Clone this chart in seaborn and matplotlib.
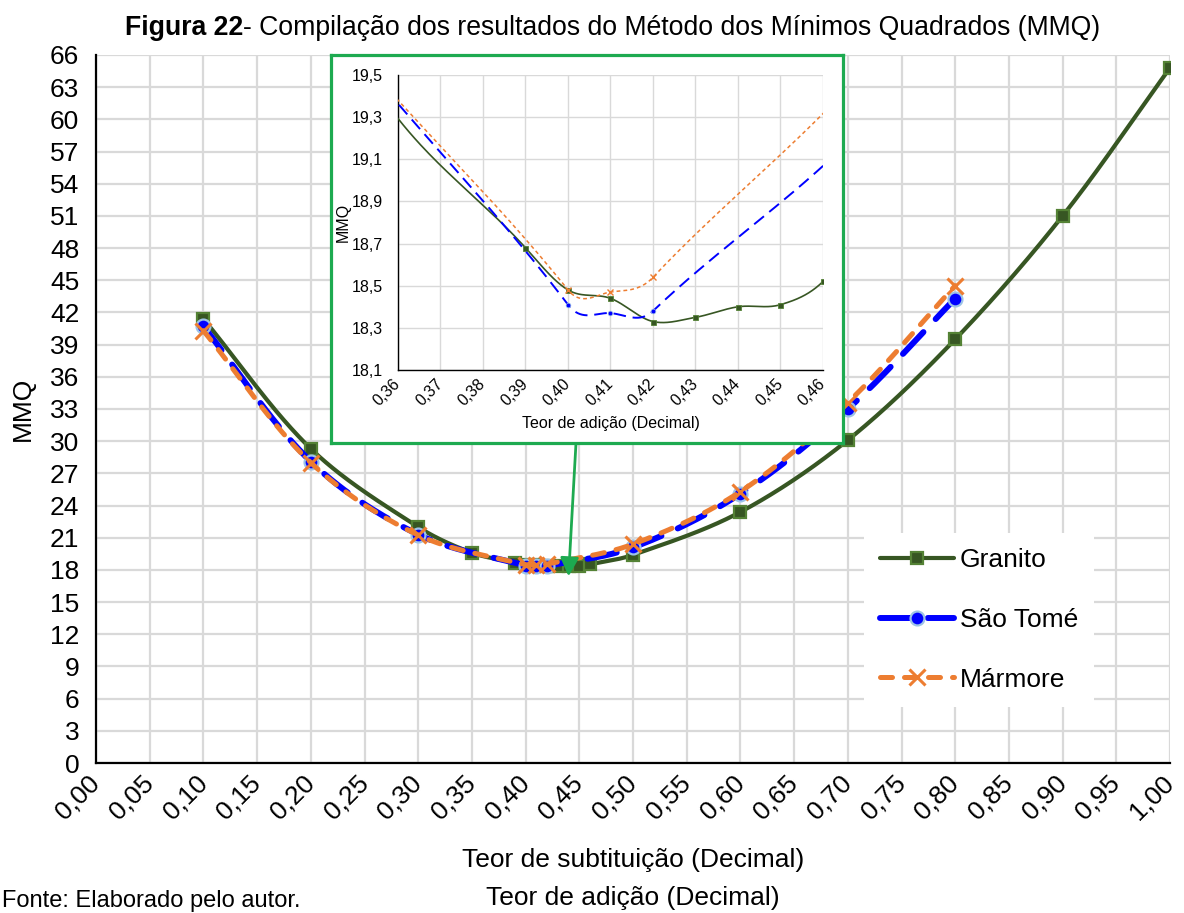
import numpy as np
import matplotlib
matplotlib.use("Agg")
import matplotlib.pyplot as plt
from matplotlib.lines import Line2D
import seaborn as sns

# ---- data -------------------------------------------------------------
teor_granito = [0.10, 0.20, 0.30, 0.35, 0.39, 0.40, 0.41, 0.42, 0.43, 0.44,
                0.45, 0.46, 0.50, 0.60, 0.70, 0.80, 0.90, 1.00]
mmq_granito = [41.4, 29.3, 22.0, 19.6, 18.68, 18.48, 18.44, 18.33, 18.35, 18.40,
               18.41, 18.52, 19.4, 23.4, 30.1, 39.5, 51.0, 64.8]

teor_sao_tome = [0.10, 0.20, 0.30, 0.40, 0.41, 0.42, 0.50, 0.60, 0.70, 0.80]
mmq_sao_tome = [40.7, 28.1, 21.3, 18.41, 18.37, 18.38, 20.1, 25.1, 33.0, 43.3]

teor_marmore = [0.10, 0.20, 0.30, 0.40, 0.41, 0.42, 0.50, 0.60, 0.70, 0.80]
mmq_marmore = [40.3, 28.0, 21.25, 18.48, 18.47, 18.54, 20.4, 25.3, 33.6, 44.5]

serie_nomes = ["Granito", "São Tomé", "Mármore"]

x_ticks = [round(0.05 * i, 2) for i in range(21)]
y_ticks = list(range(0, 67, 3))
x_ticks_zoom = [round(0.36 + 0.01 * i, 2) for i in range(11)]
y_ticks_zoom = [18.1, 18.3, 18.5, 18.7, 18.9, 19.1, 19.3, 19.5]

titulo_negrito = "Figura 22"
titulo_resto = "- Compilação dos resultados do Método dos Mínimos Quadrados (MMQ)"
rotulo_x1 = "Teor de subtituição (Decimal)"
rotulo_x2 = "Teor de adição (Decimal)"
rotulo_y = "MMQ"
fonte_txt = "Fonte: Elaborado pelo autor."

# ---- style ------------------------------------------------------------
sns.set_style("white")
plt.rcParams["font.family"] = ["Liberation Sans", "DejaVu Sans"]
plt.rcParams["text.color"] = "black"
plt.rcParams["axes.labelcolor"] = "black"
plt.rcParams["xtick.color"] = "black"
plt.rcParams["ytick.color"] = "black"

W, H = 1184, 913
fig = plt.figure(figsize=(W / 100, H / 100), dpi=100)

C_GRAN = "#375623"
C_GRAN_EDGE = "#548235"
C_SAO = "#0000FF"
C_SAO_EDGE = "#9DC3E6"
C_MAR = "#ED7D31"
C_DESTAQUE = "#1DAA50"
C_GRID = "#D9D9D9"


def fx(px):
    return px / W


def fy(py):
    return 1 - py / H


def curva_suave(x, y, sx=1074.0, sy=10.74, n=60):
    """Bezier smoothing through every point (spreadsheet-style smoothed line)."""
    p = np.column_stack([x, y]).astype(float)
    s = p * [sx, sy]
    d = np.hypot(*np.diff(s, axis=0).T)
    k = len(p)
    tang = np.zeros_like(p)
    for i in range(k):
        a, b = max(i - 1, 0), min(i + 1, k - 1)
        tang[i] = (p[b] - p[a]) / d[a:b].sum()
    t = np.linspace(0, 1, n)[:, None]
    partes = []
    for i in range(k - 1):
        h = d[i]
        c0, c3 = p[i], p[i + 1]
        c1 = c0 + tang[i] * h / 3
        c2 = c3 - tang[i + 1] * h / 3
        seg = (1 - t) ** 3 * c0 + 3 * (1 - t) ** 2 * t * c1 + 3 * (1 - t) * t ** 2 * c2 + t ** 3 * c3
        partes.append(seg if i == 0 else seg[1:])
    return np.vstack(partes)


series = [
    (teor_granito, mmq_granito),
    (teor_sao_tome, mmq_sao_tome),
    (teor_marmore, mmq_marmore),
]
curvas = [curva_suave(x, y) for x, y in series]

# ---- main axes --------------------------------------------------------
ax = fig.add_axes([fx(96), fy(763), fx(1170) - fx(96), fy(55) - fy(763)])

main_line = [
    dict(color=C_GRAN, lw=3.0, linestyle="-"),
    dict(color=C_SAO, lw=4.3, linestyle=(0, (5.0, 3.0))),
    dict(color=C_MAR, lw=3.6, linestyle=(0, (2.4, 2.4))),
]
main_mark = [
    dict(marker="s", ms=9, mfc=C_GRAN, mec=C_GRAN_EDGE, mew=1.6),
    dict(marker="o", ms=10, mfc=C_SAO, mec=C_SAO_EDGE, mew=1.6),
    dict(marker="x", ms=11, mfc=C_MAR, mec=C_MAR, mew=2.2),
]

for i, ((x, y), cur) in enumerate(zip(series, curvas)):
    sns.lineplot(x=cur[:, 0], y=cur[:, 1], ax=ax, sort=False, estimator=None,
                 dash_capstyle="round", solid_capstyle="round", zorder=3 + i,
                 **main_line[i])
    ax.plot(x, y, linestyle="none", zorder=3.5 + i, **main_mark[i])

ax.set_xlim(0, 1)
ax.set_ylim(0, 66)
ax.set_xticks(x_ticks)
ax.set_xticklabels([f"{v:.2f}".replace(".", ",") for v in x_ticks],
                   rotation=45, ha="right", va="center", rotation_mode="anchor")
ax.set_yticks(y_ticks)
ax.set_yticklabels([str(v) for v in y_ticks])
ax.tick_params(axis="both", direction="in", length=7, width=1.5, labelsize=19,
               colors="black")
ax.tick_params(axis="x", pad=12)
ax.tick_params(axis="y", pad=12)
ax.grid(True, color=C_GRID, lw=1.6)
ax.set_axisbelow(True)
for side in ["top", "right"]:
    ax.spines[side].set_visible(False)
for side in ["left", "bottom"]:
    ax.spines[side].set_color("black")
    ax.spines[side].set_linewidth(1.6)
ax.set_xlabel("")
ax.set_ylabel(rotulo_y, fontsize=19)
ax.yaxis.set_label_coords((23 - 96) / 1074, 0.5)
ax.yaxis.label.set_va("center")

# legend
handles = []
for i in range(3):
    handles.append(Line2D([], [], dash_capstyle="round", solid_capstyle="round",
                          **main_line[i], **main_mark[i]))
leg = ax.legend(handles, serie_nomes, loc="center",
                bbox_to_anchor=(fx(979), fy(620)), bbox_transform=fig.transFigure,
                fontsize=19, frameon=True, fancybox=False, framealpha=1,
                edgecolor="none", facecolor="white", handlelength=2.8,
                handletextpad=0.25, labelspacing=1.35, borderpad=0.6, numpoints=1)
leg.set_zorder(10)

# arrow from the zoom box down to the minimum region
ax.annotate("", xy=(0.44, 17.4), xycoords="data",
            xytext=(fx(576), fy(443)), textcoords="figure fraction",
            arrowprops=dict(arrowstyle="-|>", color=C_DESTAQUE, lw=2.0,
                            mutation_scale=28, shrinkA=0, shrinkB=0),
            annotation_clip=False, zorder=9)

# ---- zoom box ---------------------------------------------------------
box = fig.add_axes([fx(331), fy(443), fx(843) - fx(331), fy(55) - fy(443)])
box.set_facecolor("white")
box.set_xticks([])
box.set_yticks([])
for sp in box.spines.values():
    sp.set_color(C_DESTAQUE)
    sp.set_linewidth(2.3)

axi = fig.add_axes([fx(398), fy(370), fx(823) - fx(398), fy(75) - fy(370)])
axi.set_facecolor("none")

zoom_line = [
    dict(color=C_GRAN, lw=1.2, linestyle="-"),
    dict(color=C_SAO, lw=1.4, linestyle=(0, (6.5, 3.5))),
    dict(color=C_MAR, lw=1.1, linestyle=(0, (2.5, 2.0))),
]
zoom_mark = [
    dict(marker="s", ms=3.6, mfc=C_GRAN, mec=C_GRAN_EDGE, mew=0.6),
    dict(marker="o", ms=3.4, mfc=C_SAO, mec=C_SAO_EDGE, mew=0.5),
    dict(marker="x", ms=4.5, mfc=C_MAR, mec=C_MAR, mew=1.0),
]
for i, ((x, y), cur) in enumerate(zip(series, curvas)):
    sns.lineplot(x=cur[:, 0], y=cur[:, 1], ax=axi, sort=False, estimator=None,
                 zorder=3 + i, **zoom_line[i])
    axi.plot(x, y, linestyle="none", zorder=3.5 + i, **zoom_mark[i])

axi.set_xlim(0.36, 0.46)
axi.set_ylim(18.1, 19.5)
axi.set_xticks(x_ticks_zoom)
axi.set_xticklabels([f"{v:.2f}".replace(".", ",") for v in x_ticks_zoom],
                    rotation=45, ha="right", va="center", rotation_mode="anchor")
axi.set_yticks(y_ticks_zoom)
axi.set_yticklabels([f"{v:.1f}".replace(".", ",") for v in y_ticks_zoom])
axi.tick_params(axis="both", direction="in", length=4, width=1.0, labelsize=11.5,
                colors="black")
axi.tick_params(axis="x", pad=8)
axi.tick_params(axis="y", pad=11)
axi.grid(True, color=C_GRID, lw=1.0)
axi.set_axisbelow(True)
for side in ["top", "right"]:
    axi.spines[side].set_visible(False)
for side in ["left", "bottom"]:
    axi.spines[side].set_color("black")
    axi.spines[side].set_linewidth(1.0)
axi.set_xlabel(rotulo_x2, fontsize=11.5)
axi.set_ylabel(rotulo_y, fontsize=11.5)
axi.xaxis.set_label_coords(0.5, (370 - 423) / 295)
axi.xaxis.label.set_va("center")
axi.yaxis.set_label_coords((343 - 398) / 425, 0.5)
axi.yaxis.label.set_va("center")

# ---- figure texts -----------------------------------------------------
t1 = fig.text(fx(125), fy(28), titulo_negrito, fontsize=19.2, fontweight="bold",
              ha="left", va="center")
fig.canvas.draw()
bb = t1.get_window_extent()
fig.text(bb.x1 / W, fy(28), titulo_resto, fontsize=19.2, ha="left", va="center")

fig.text(fx(633), fy(860), rotulo_x1, fontsize=19, ha="center", va="center")
fig.text(fx(633), fy(898), rotulo_x2, fontsize=19, ha="center", va="center")
fig.text(fx(2), fy(912), fonte_txt, fontsize=17, ha="left", va="bottom")

fig.savefig("out.png", dpi=100)
